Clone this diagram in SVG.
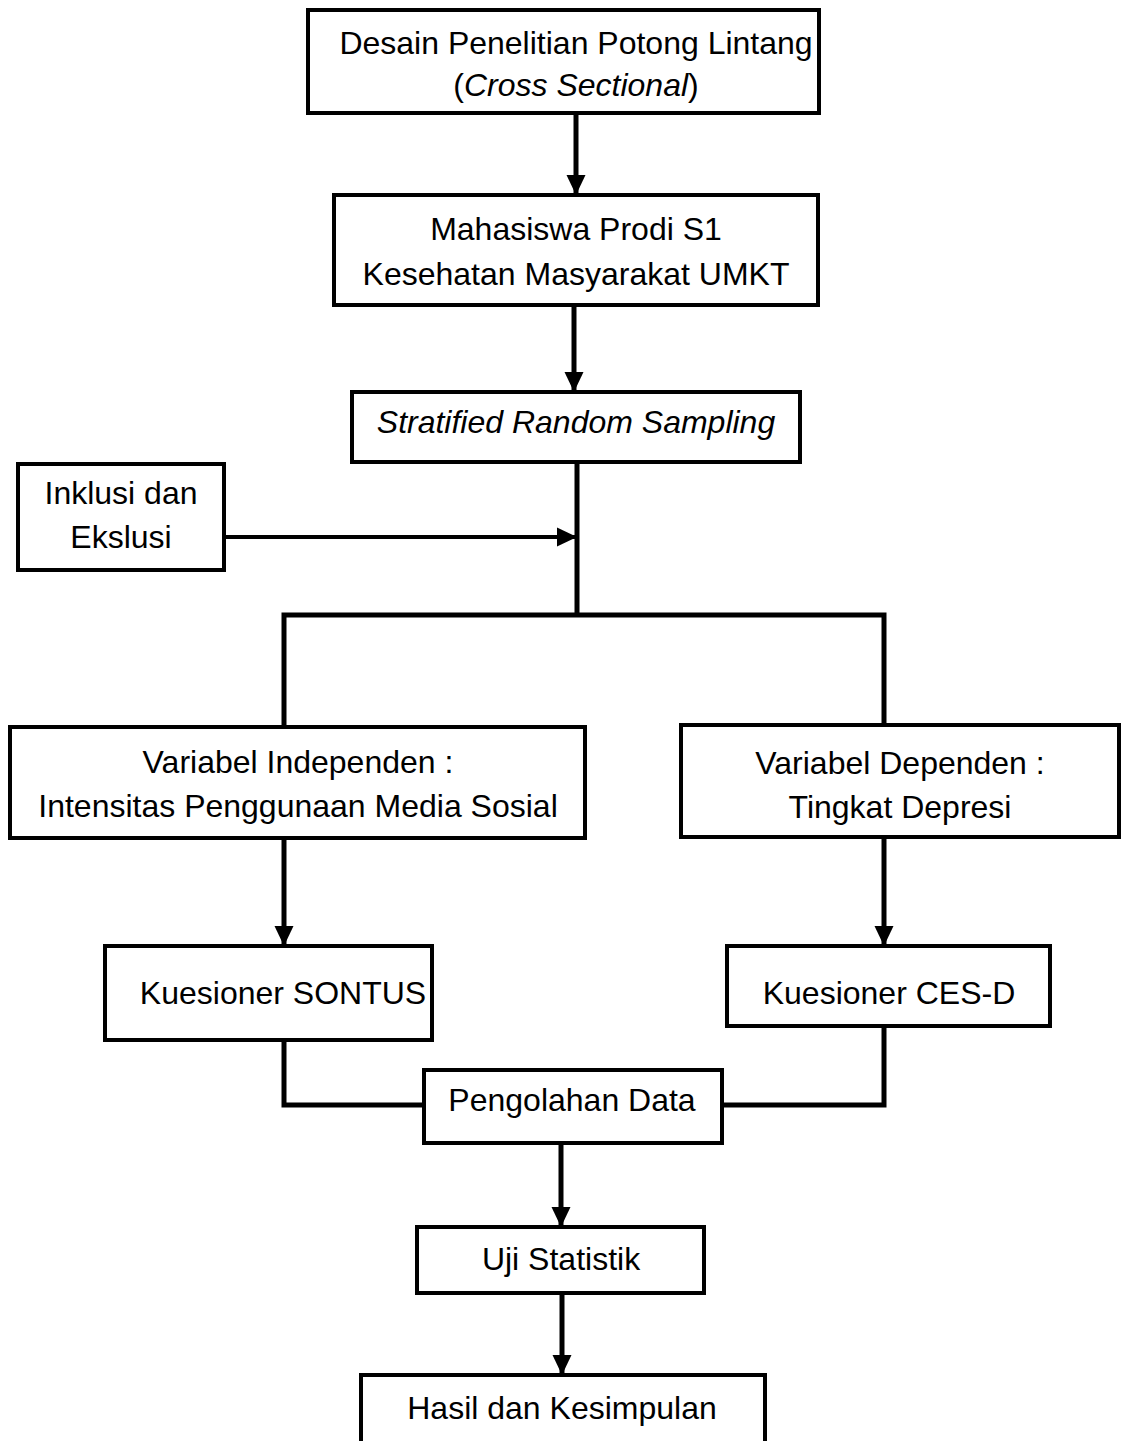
<svg xmlns="http://www.w3.org/2000/svg" width="1122" height="1441" viewBox="0 0 1122 1441">
<style>
.box{fill:#fff;stroke:#000;stroke-width:4}
.t{font-family:"Liberation Sans",Arial,sans-serif;font-size:32px;fill:#000;text-anchor:middle}
.i{font-style:italic}
.c{fill:none;stroke:#000;stroke-width:5}
.c2{fill:none;stroke:#000;stroke-width:4}
</style>
<defs>
<marker id="ah" markerUnits="userSpaceOnUse" markerWidth="22" markerHeight="22" viewBox="0 0 22 22" refX="20" refY="11" orient="auto">
<path d="M0,1.5 L20,11 L0,20.5 Z" fill="#000"/>
</marker>
</defs>
<rect width="1122" height="1441" fill="#fff"/>
<g id="connectors">
<line class="c" x1="576" y1="113" x2="576" y2="195" marker-end="url(#ah)"/>
<line class="c" x1="574" y1="305" x2="574" y2="392" marker-end="url(#ah)"/>
<polyline class="c" points="577,462 577,615"/>
<line class="c2" x1="224" y1="537" x2="577" y2="537" marker-end="url(#ah)"/>
<polyline class="c" points="284,727 284,615 884,615 884,725"/>
<line class="c" x1="284" y1="838" x2="284" y2="946" marker-end="url(#ah)"/>
<line class="c" x1="884" y1="837" x2="884" y2="946" marker-end="url(#ah)"/>
<polyline class="c" points="284,1040 284,1105 424,1105"/>
<polyline class="c" points="884,1026 884,1105 722,1105"/>
<line class="c" x1="561" y1="1143" x2="561" y2="1227" marker-end="url(#ah)"/>
<line class="c" x1="562" y1="1293" x2="562" y2="1375" marker-end="url(#ah)"/>
</g>
<g id="n1"><rect class="box" x="308" y="10" width="511" height="103"/>
<text class="t" x="576" y="54">Desain Penelitian Potong Lintang</text>
<text class="t" x="576" y="96">(<tspan class="i">Cross Sectional</tspan>)</text></g>
<g id="n2"><rect class="box" x="334" y="195" width="484" height="110"/>
<text class="t" x="576" y="240">Mahasiswa Prodi S1</text>
<text class="t" x="576" y="285">Kesehatan Masyarakat UMKT</text></g>
<g id="n3"><rect class="box" x="352" y="392" width="448" height="70"/>
<text class="t i" x="576" y="433">Stratified Random Sampling</text></g>
<g id="n4"><rect class="box" x="18" y="464" width="206" height="106"/>
<text class="t" x="121" y="504">Inklusi dan</text>
<text class="t" x="121" y="548">Ekslusi</text></g>
<g id="n5"><rect class="box" x="10" y="727" width="575" height="111"/>
<text class="t" x="298" y="773">Variabel Independen :</text>
<text class="t" x="298" y="817">Intensitas Penggunaan Media Sosial</text></g>
<g id="n6"><rect class="box" x="681" y="725" width="438" height="112"/>
<text class="t" x="900" y="774">Variabel Dependen :</text>
<text class="t" x="900" y="818">Tingkat Depresi</text></g>
<g id="n7"><rect class="box" x="105" y="946" width="327" height="94"/>
<text class="t" x="283" y="1004">Kuesioner SONTUS</text></g>
<g id="n8"><rect class="box" x="727" y="946" width="323" height="80"/>
<text class="t" x="889" y="1004">Kuesioner CES-D</text></g>
<g id="n9"><rect class="box" x="424" y="1070" width="298" height="73"/>
<text class="t" x="572" y="1111">Pengolahan Data</text></g>
<g id="n10"><rect class="box" x="417" y="1227" width="287" height="66"/>
<text class="t" x="561" y="1270">Uji Statistik</text></g>
<g id="n11"><rect class="box" x="361" y="1375" width="404" height="80"/>
<text class="t" x="562" y="1419">Hasil dan Kesimpulan</text></g>
</svg>
